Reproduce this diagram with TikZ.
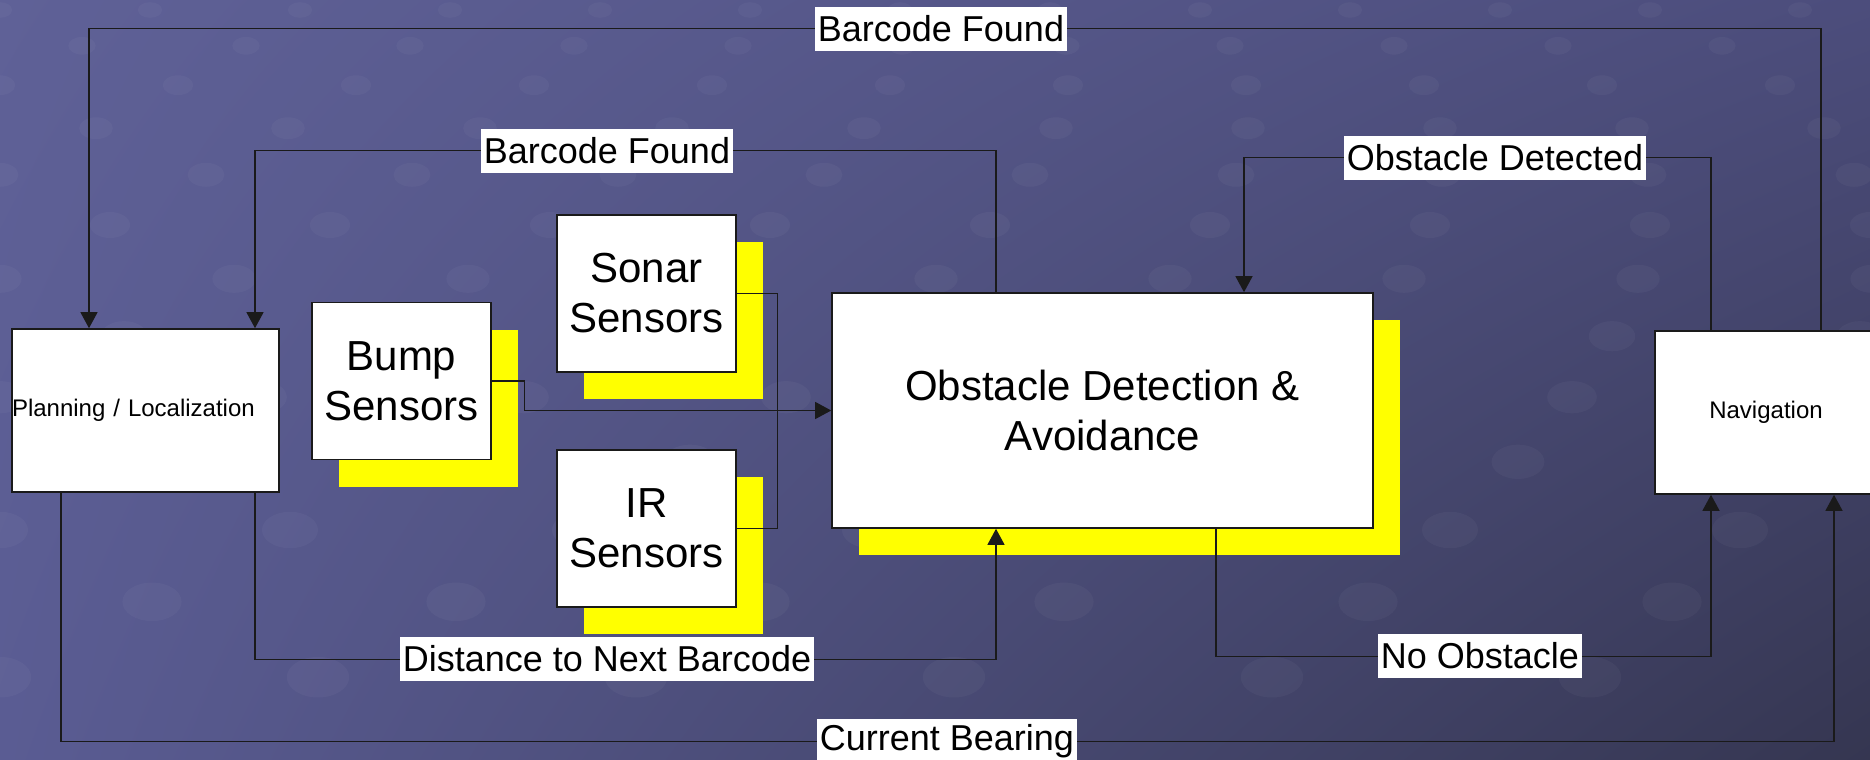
\documentclass[tikz,border=0pt]{standalone}
\usepackage{fontspec}
\setmainfont{Liberation Sans}
\usepackage{xcolor}
\usepackage{tikz}
\usetikzlibrary{arrows.meta,shadows,shadings}
\definecolor{bgtl}{HTML}{5F6197}
\definecolor{bgtr}{HTML}{4C4D7C}
\definecolor{bgbl}{HTML}{5A5C93}
\definecolor{bgbr}{HTML}{353651}
\definecolor{edge}{HTML}{1A1A1A}
\definecolor{shadowy}{HTML}{FFFF00}
\tikzset{
  box/.style    ={draw=edge,line width=0.8pt,fill=white,align=center,inner sep=0pt,
                  font=\fontsize{21}{25}\selectfont},
  hl/.style     ={drop shadow={shadow xshift=13.5pt,shadow yshift=-13.5pt,
                  fill=shadowy,opacity=1}},
  sensor/.style ={box,hl,minimum width=89.5pt,minimum height=78.5pt},
  plainbox/.style={box,minimum height=81.5pt,font=\fontsize{12}{14}\selectfont},
  lbl/.style    ={fill=white,inner xsep=1.5pt,inner ysep=0pt,minimum height=22pt,
                  font=\fontsize{18}{21}\selectfont},
  flow/.style   ={-{Triangle[length=8pt,width=8.5pt]},line width=0.6pt,draw=edge},
  wire/.style   ={line width=0.6pt,draw=edge},
  bead/.style   ={fill=white,opacity=0.035}
}

\begin{document}
\begin{tikzpicture}[x=0.5pt,y=-0.5pt]
  \useasboundingbox (0,0) rectangle (1870,760);
  \clip (0,0) rectangle (1870,760);
  \shade[upper left=bgtl,upper right=bgtr,lower left=bgbl,lower right=bgbr]
    (0,0) rectangle (1870,760);
  \foreach \j in {0,...,12}{
    \pgfmathsetmacro\yy{10+34*\j+1.8*\j*\j}
    \pgfmathsetmacro\ss{150+14*\j}
    \pgfmathsetmacro\rr{12+1.6*\j}
    \pgfmathsetmacro\off{mod(\j,2)*0.5*\ss}
    \foreach \i in {-1,...,13}
      \fill[bead] (\i*\ss+\off,\yy) ellipse ({\rr} and {0.65*\rr});
  }

  \node[plainbox,text width=133.5pt,align=left] (plan) at (145.5,410.5)
    {Planning / Localization};
  \node[plainbox,minimum width=111pt] (nav) at (1766,412.5) {Navigation};
  \node[sensor] (bump) at (401.5,381) {Bump\\Sensors};
  \node[sensor] (sonar) at (646.5,293.5) {Sonar\\Sensors};
  \node[sensor] (ir) at (646.5,528.5) {IR\\Sensors};
  \node[box,hl,minimum width=270.5pt,minimum height=117.5pt] (oda) at (1102.5,410.5)
    {Obstacle Detection \&\\Avoidance};

  \draw[wire] (sonar.east) -- ++(41,0) |- (ir.east);
  \draw[flow] (bump.east) -- ++(33,0) |- (oda.west);

  \draw[flow] ([xshift=27.5pt]nav.north) -- ++(0,-302) -| ([xshift=-28.25pt]plan.north);
  \draw[flow] ([xshift=-53.25pt]oda.north) -- ++(0,-142) -| ([xshift=54.75pt]plan.north);
  \draw[flow] ([xshift=-27.5pt]nav.north) -- ++(0,-173) -| ([xshift=70.75pt]oda.north);
  \draw[flow] ([xshift=54.75pt]plan.south) -- ++(0,167) -| ([xshift=-53.25pt]oda.south);
  \draw[flow] ([xshift=56.75pt]oda.south) -- ++(0,128) -| ([xshift=-27.5pt]nav.south);
  \draw[flow] ([xshift=-42.25pt]plan.south) -- ++(0,249) -| ([xshift=34pt]nav.south);

  \node[lbl] (found top) at (941,29) {Barcode Found};
  \node[lbl] (found mid) at (607,151) {Barcode Found};
  \node[lbl] (detected) at (1495,158) {Obstacle Detected};
  \node[lbl] (distance) at (607,659) {Distance to Next Barcode};
  \node[lbl] (clear) at (1480,656) {No Obstacle};
  \node[lbl] (bearing) at (947,741) {Current Bearing};
\end{tikzpicture}
\end{document}
